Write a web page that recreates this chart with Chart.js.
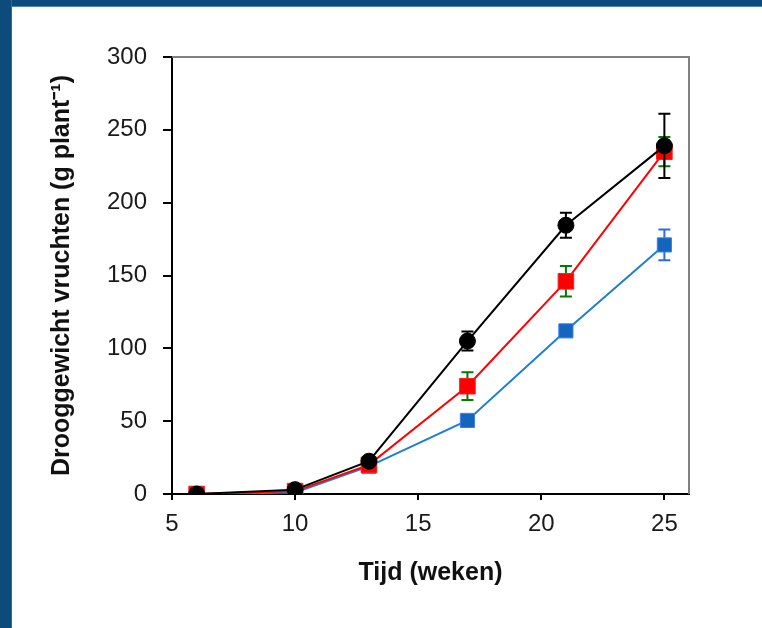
<!DOCTYPE html>
<html>
<head>
<meta charset="utf-8">
<script src="https://cdn.jsdelivr.net/npm/chart.js@4"></script>
<style>
  html, body { margin: 0; padding: 0; background: #fff; }
  #wrap { position: relative; width: 762px; height: 628px; overflow: hidden; }
  .band-top { position: absolute; left: 0; top: 0; width: 762px; height: 6px; background: #0b4c7b; border-bottom: 1px solid #4f86b4; }
  .band-left { position: absolute; left: 0; top: 0; width: 11px; height: 628px; background: #0b4c7b; border-right: 1px solid #2f6a99; }
  canvas { position: absolute; left: 0; top: 0; }
</style>
</head>
<body>
<div id="wrap">
  <div class="band-top"></div>
  <div class="band-left"></div>
  <canvas id="myChart" width="762" height="628"></canvas>
</div>
<script>
// weeks after planting
const weeks = [6, 10, 13, 17, 21, 25];

// dry weight of the fruits per plant, with standard errors
const blackVals = [0, 3, 22.5, 105, 184.5, 239];
const blackErr  = [0, 0, 0, 6.5, 8.5, 22];
const redVals   = [0, 2, 20, 74, 146, 235];
const redErr    = [0, 0, 0, 9.5, 10.5, 10];
const blueVals  = [0, 1, 19, 50.5, 112, 171];
const blueErr   = [0, 0, 0, 0, 0, 10.5];

const yTicks = [0, 50, 100, 150, 200, 250, 300];
const xTicks = [5, 10, 15, 20, 25];

const toPoints = (vals) => vals.map((v, i) => ({ x: weeks[i], y: v }));

const series = [
  { vals: blackVals, err: blackErr, line: "#000000", fill: "#000000", edge: "#000000", errColor: "#000000", shape: "circle", r: 8 },
  { vals: redVals, err: redErr, line: "#ff0000", fill: "#ff0000", edge: "#ff1a1a", errColor: "#007a00", shape: "rect", r: 11 },
  { vals: blueVals, err: blueErr, line: "#1f7fcf", fill: "#1466bd", edge: "#3b7cff", errColor: "#2a6cf0", shape: "rect", r: 10 },
];

// error bars go underneath each series' markers
const errorBars = {
  id: "errorBars",
  beforeDatasetDraw(chart, args) {
    const s = series[args.index];
    const { ctx, scales } = chart;
    ctx.save();
    ctx.strokeStyle = s.errColor;
    ctx.lineWidth = 2;
    s.vals.forEach((v, i) => {
      const e = s.err[i];
      if (!e) return;
      const x = scales.x.getPixelForValue(weeks[i]);
      const yHi = scales.y.getPixelForValue(v + e);
      const yLo = scales.y.getPixelForValue(v - e);
      ctx.beginPath();
      ctx.moveTo(x, yHi); ctx.lineTo(x, yLo);
      ctx.moveTo(x - 6, yHi); ctx.lineTo(x + 6, yHi);
      ctx.moveTo(x - 6, yLo); ctx.lineTo(x + 6, yLo);
      ctx.stroke();
    });
    ctx.restore();
  }
};

// grey top and right edges of the plot box
const plotFrame = {
  id: "plotFrame",
  beforeDatasetsDraw(chart) {
    const { ctx, chartArea: a } = chart;
    ctx.save();
    ctx.strokeStyle = "#808080";
    ctx.lineWidth = 2;
    ctx.beginPath();
    ctx.moveTo(a.left, a.top);
    ctx.lineTo(a.right, a.top);
    ctx.lineTo(a.right, a.bottom);
    ctx.stroke();
    ctx.restore();
  }
};

const data = {
  datasets: series.map((s) => ({
    data: toPoints(s.vals),
    borderColor: s.line,
    borderWidth: 2,
    backgroundColor: s.fill,
    pointBackgroundColor: s.fill,
    pointBorderColor: s.edge,
    pointBorderWidth: 1,
    pointStyle: s.shape,
    pointRadius: s.r,
    pointHoverRadius: s.r,
    tension: 0,
  })),
};

const tickFont = { family: "'Liberation Sans', Arial, sans-serif", size: 24 };
const titleFont = { family: "'Liberation Sans', Arial, sans-serif", size: 25, weight: "bold" };

const config = {
  type: "line",
  data: data,
  options: {
    responsive: false,
    animation: false,
    layout: { padding: { top: 57, right: 73, left: 0, bottom: 0 } },
    plugins: { legend: { display: false }, tooltip: { enabled: false } },
    scales: {
      x: {
        type: "linear",
        min: 5,
        max: 26,
        afterFit: (scale) => { scale.height = 134; },
        afterBuildTicks: (scale) => { scale.ticks = xTicks.map((v) => ({ value: v })); },
        ticks: { font: tickFont, color: "#1a1a1a", padding: 10, maxRotation: 0 },
        grid: { drawOnChartArea: false, drawTicks: true, tickLength: 6, color: "#000", lineWidth: 2 },
        border: { color: "#000", width: 2 },
        title: { display: true, text: "Tijd (weken)", font: titleFont, color: "#111", padding: { top: 40, bottom: 40 } },
      },
      y: {
        min: 0,
        max: 300,
        afterFit: (scale) => { scale.width = 172; },
        afterBuildTicks: (scale) => { scale.ticks = yTicks.map((v) => ({ value: v })); },
        ticks: { font: tickFont, color: "#1a1a1a", padding: 16 },
        grid: { drawOnChartArea: false, drawTicks: true, tickLength: 9, color: "#000", lineWidth: 2 },
        border: { color: "#000", width: 2 },
        title: { display: true, text: "Drooggewicht vruchten (g plant⁻¹)", font: titleFont, color: "#111", padding: { top: 47, bottom: 47 } },
      },
    },
  },
  plugins: [plotFrame, errorBars],
};

new Chart(document.getElementById("myChart"), config);
</script>
</body>
</html>
